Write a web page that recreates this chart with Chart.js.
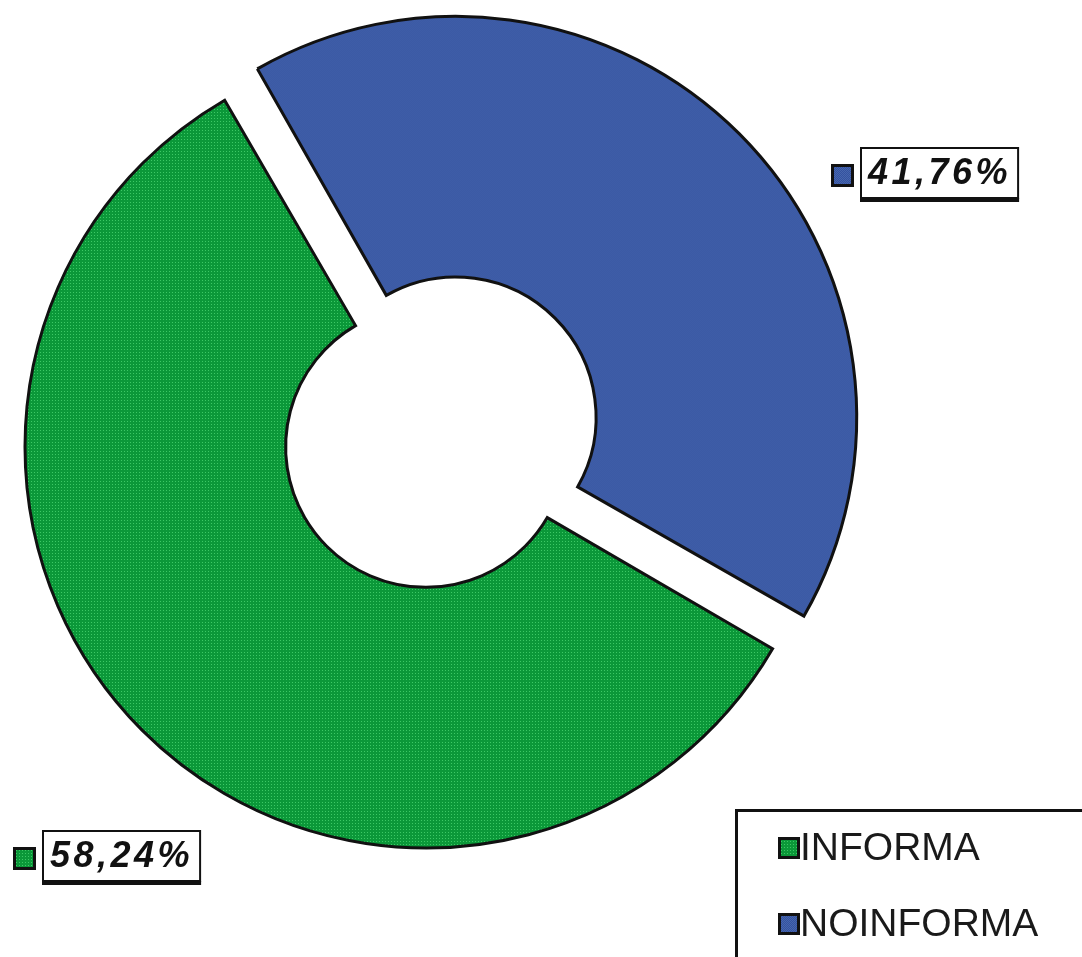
<!DOCTYPE html>
<html>
<head>
<meta charset="utf-8">
<script src="https://cdn.jsdelivr.net/npm/chart.js"></script>
<style>
  html, body { margin: 0; padding: 0; background: #fff; }
  #wrap { width: 1082px; height: 957px; position: relative; }
</style>
</head>
<body>
<div id="wrap"><canvas id="pie" width="1082" height="957"></canvas></div>
<script>
// data
const categories = ["INFORMA", "NOINFORMA"];
const shares = [58.24, 41.76];
const shareText = ["58,24%", "41,76%"];
const sliceOffsets = [0, 168]; // only NOINFORMA is pulled out

// where the percentage boxes sit (top-left of the box)
const boxAt = [{ x: 42, y: 830 }, { x: 860, y: 147 }];

// small fill textures like the old print
function texture(base, dot, size, dots) {
  const c = document.createElement("canvas");
  c.width = size; c.height = size;
  const g = c.getContext("2d");
  g.fillStyle = base;
  g.fillRect(0, 0, size, size);
  g.fillStyle = dot;
  dots.forEach(([x, y]) => g.fillRect(x, y, 1, 1));
  return g.createPattern(c, "repeat");
}
const greenFill = texture("#0b9839", "#3cc865", 3, [[1, 1]]);
const blueFill = texture("#3451a0", "#4767ad", 2, [[0, 0], [1, 1]]);

function drawKey(ctx, x, y, size, fill) {
  ctx.fillStyle = "#111";
  ctx.fillRect(x, y, size, size);
  ctx.fillStyle = fill;
  ctx.fillRect(x + 3, y + 3, size - 6, size - 6);
}

// Chart.js grows the radius of an offset arc; keep it at the ring size so it just slides out
const slideOnly = {
  id: "slideOnly",
  afterDatasetsUpdate(chart) {
    chart.getDatasetMeta(0).data.forEach((arc, i) => {
      const off = (sliceOffsets[i] || 0) / 4;
      const fix = 1 - Math.sin(Math.min(Math.PI, arc.circumference));
      arc.outerRadius -= off * fix;
      arc.innerRadius -= off * fix;
    });
  }
};

const extras = {
  id: "extras",
  afterDraw(chart) {
    const ctx = chart.ctx;
    const ds = chart.data.datasets[0];
    ctx.save();

    // percentage boxes
    ctx.font = "bold italic 36px Arial";
    ctx.letterSpacing = "3.5px";
    ctx.textBaseline = "middle";
    shareText.forEach((t, i) => {
      const b = boxAt[i];
      const w = ctx.measureText(t).width + 16;
      const h = 52;
      drawKey(ctx, b.x - 29, b.y + 17, 23, ds.backgroundColor[i]);
      ctx.fillStyle = "#fff";
      ctx.fillRect(b.x, b.y, w, h);
      ctx.strokeStyle = "#111";
      ctx.lineWidth = 2;
      ctx.strokeRect(b.x + 1, b.y + 1, w - 2, h - 2);
      ctx.fillStyle = "#111";
      ctx.fillRect(b.x, b.y + h - 1, w, 4);
      ctx.fillText(t, b.x + 8, b.y + h / 2 + 1);
    });

    // legend
    ctx.letterSpacing = "0px";
    ctx.lineWidth = 3;
    ctx.strokeStyle = "#111";
    ctx.strokeRect(736.5, 810.5, 400, 200);
    ctx.font = "39px Arial";
    ctx.textBaseline = "alphabetic";
    chart.data.labels.forEach((lab, i) => {
      const y = 837 + i * 76;
      drawKey(ctx, 778, y, 22, ds.backgroundColor[i]);
      ctx.fillStyle = "#1a1a1a";
      ctx.fillText(lab, 800, y + 23);
    });
    ctx.restore();
  }
};

new Chart(document.getElementById("pie"), {
  type: "doughnut",
  data: {
    labels: categories,
    datasets: [{
      data: shares,
      backgroundColor: [greenFill, blueFill],
      borderColor: "#111",
      borderWidth: 3,
      borderJoinStyle: "miter",
      offset: sliceOffsets
    }]
  },
  options: {
    responsive: false,
    animation: false,
    rotation: 120.2,
    cutout: "35%",
    radius: 401,
    layout: { padding: { left: 0, right: 230, top: 0, bottom: 63 } },
    plugins: {
      legend: { display: false },
      tooltip: { enabled: false }
    }
  },
  plugins: [slideOnly, extras]
});
</script>
</body>
</html>
